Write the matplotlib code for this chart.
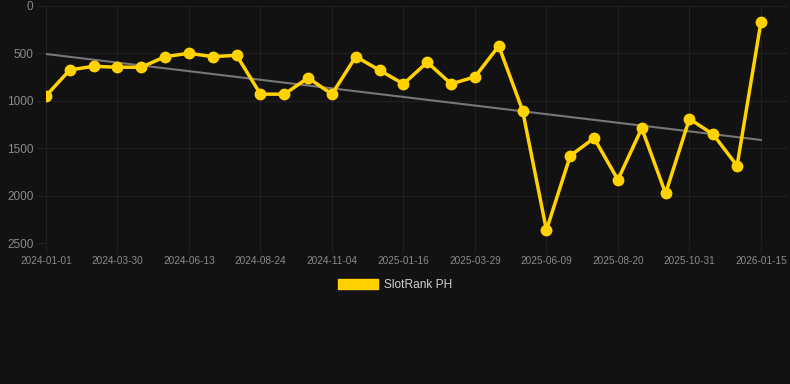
import numpy as np
import matplotlib
matplotlib.use("Agg")
import matplotlib.pyplot as plt
from matplotlib.patches import Patch

tick_labels = ["2024-01-01", "2024-03-30", "2024-06-13", "2024-08-24", "2024-11-04",
               "2025-01-16", "2025-03-29", "2025-06-09", "2025-08-20", "2025-10-31", "2026-01-15"]
ranks = [948, 674, 636, 646, 646, 534, 499, 534, 520, 930, 930, 758, 930, 534, 678,
         822, 593, 822, 748, 421, 1103, 2363, 1580, 1394, 1833, 1289, 1977, 1190, 1355, 1685, 172]
series_name = "SlotRank PH"

BG = "#121212"
GOLD = "#FFD200"
GRID = "#202020"
TXT = "#8a8a8a"

plt.rcParams['font.family'] = ['Liberation Sans', 'DejaVu Sans']

fig = plt.figure(figsize=(7.9, 3.84), dpi=100, facecolor=BG)
ax = fig.add_axes([46/790, (384-243)/384, (787-46)/790, (243-6)/384], facecolor=BG)

x = np.arange(len(ranks))
coef = np.polyfit(x, ranks, 1)
ax.plot(x, np.polyval(coef, x), color="#777777", lw=1.5, zorder=2)
ax.plot(x, ranks, color=GOLD, lw=2.5, marker="o", ms=7.5, zorder=3)

ax.set_ylim(2500, 0)
ax.set_yticks([0, 500, 1000, 1500, 2000, 2500])
ax.set_xlim(0, (787-46)/23.83)
ax.set_xticks(np.arange(0, len(ranks), 3))
ax.set_xticklabels(tick_labels)

ax.grid(True, color=GRID, lw=0.8)
ax.set_axisbelow(True)
for s in ax.spines.values():
    s.set_visible(False)
ax.tick_params(axis="y", colors=GRID, labelcolor=TXT, labelsize=8.5, length=7, width=0.8, pad=2)
ax.tick_params(axis="x", colors=GRID, labelcolor=TXT, labelsize=7.2, length=7, width=0.8, pad=2)

leg = fig.legend(handles=[Patch(facecolor=GOLD, edgecolor=GOLD)], labels=[series_name],
                 loc="center", bbox_to_anchor=(0.5, (384-285)/384), frameon=False,
                 handlelength=3.4, handleheight=0.95, handletextpad=0.45, fontsize=8.6)
for t in leg.get_texts():
    t.set_color("#d0d0d0")

fig.savefig("out.png", dpi=100, facecolor=BG)
